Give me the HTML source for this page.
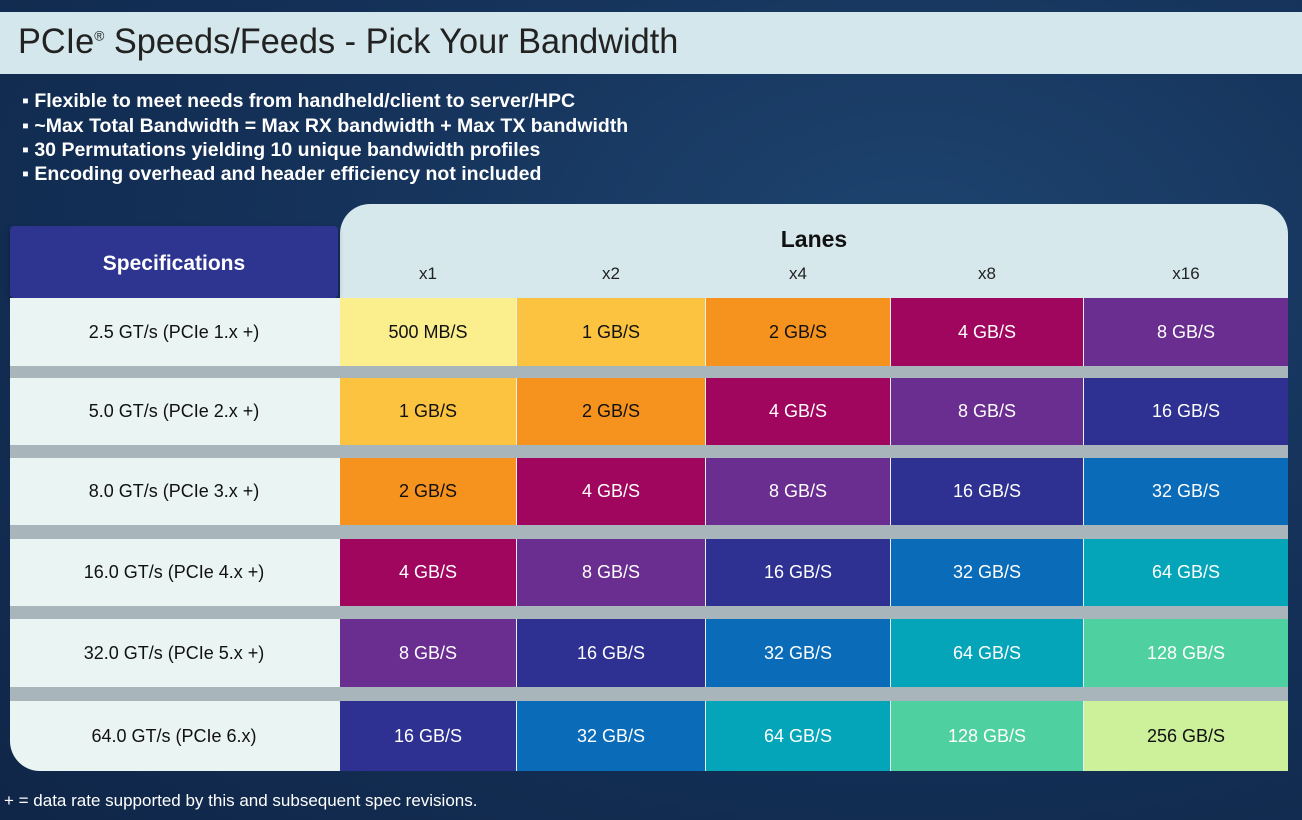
<!DOCTYPE html>
<html><head><style>
body{margin:0;width:1302px;height:820px;overflow:hidden;background:radial-gradient(ellipse at 70% 30%,#1d446f 0%,#15325a 45%,#0f2648 100%);font-family:"Liberation Sans",sans-serif;position:relative}
.a{position:absolute}
.title{left:0;top:12px;width:1302px;height:62px;background:#d4e7ec}
.title span{position:absolute;left:18px;top:10px;font-size:35px;color:#222;transform:scaleX(0.98);transform-origin:left;white-space:nowrap}
.bul{left:22px;color:#fff;font-weight:bold;font-size:19.5px;transform:scaleX(1.0);transform-origin:left;white-space:nowrap}
.panel{left:340px;top:204px;width:948px;height:100px;background:#d6e8ec;border-radius:30px 30px 0 0}
.spec{left:10px;top:226px;width:328px;height:72px;background:#2e3590;border-radius:4px;box-shadow:0 3px 6px rgba(0,0,0,.35);color:#fff;font-weight:bold;font-size:21px;text-align:center;line-height:76px}
.left{left:10px;top:298px;width:330px;height:473px;background:#e9f4f3;border-radius:0 0 0 30px}
.band{left:10px;width:1278px;background:#a8b5bb}
.lbl{left:10px;width:328px;text-align:center;font-size:18px;color:#111}
.c{font-size:18px;text-align:center;display:flex;align-items:center;justify-content:center}
.hx{top:264px;font-size:17px;color:#222;text-align:center}
</style></head><body>
<div class="a title"><span>PCIe<sup style="font-size:14px">®</sup> Speeds/Feeds - Pick Your Bandwidth</span></div>
<div class="a bul" style="top:90px">▪ Flexible to meet needs from handheld/client to server/HPC</div>
<div class="a bul" style="top:115px">▪ ~Max Total Bandwidth = Max RX bandwidth + Max TX bandwidth</div>
<div class="a bul" style="top:139px">▪ 30 Permutations yielding 10 unique bandwidth profiles</div>
<div class="a bul" style="top:163px">▪ Encoding overhead and header efficiency not included</div>
<div class="a panel"></div>
<div class="a" style="left:340px;width:948px;top:226px;text-align:center;font-weight:bold;font-size:23px;color:#111">Lanes</div>
<div class="a hx" style="left:340px;width:176px">x1</div>
<div class="a hx" style="left:517px;width:188px">x2</div>
<div class="a hx" style="left:706px;width:184px">x4</div>
<div class="a hx" style="left:891px;width:192px">x8</div>
<div class="a hx" style="left:1084px;width:204px">x16</div>
<div class="a spec">Specifications</div>
<div class="a left"></div>
<div class="a band" style="top:366px;height:12px"></div>
<div class="a band" style="top:445px;height:13px"></div>
<div class="a band" style="top:525px;height:14px"></div>
<div class="a band" style="top:606px;height:13px"></div>
<div class="a band" style="top:687px;height:14px"></div>
<div id="g"></div>
<div class="a" style="left:4px;top:791px;color:#fff;font-size:17px;white-space:nowrap;transform:scaleX(1.0);transform-origin:left">+ = data rate supported by this and subsequent spec revisions.</div>
<script>
var rows=[[298,366],[378,445],[458,525],[539,606],[619,687],[701,771]];
var cols=[[340,516],[517,705],[706,890],[891,1083],[1084,1288]];
var labels=["2.5 GT/s (PCIe 1.x +)","5.0 GT/s (PCIe 2.x +)","8.0 GT/s (PCIe 3.x +)","16.0 GT/s (PCIe 4.x +)","32.0 GT/s (PCIe 5.x +)","64.0 GT/s (PCIe 6.x)"];
var vals=["500 MB/S","1 GB/S","2 GB/S","4 GB/S","8 GB/S","16 GB/S","32 GB/S","64 GB/S","128 GB/S","256 GB/S"];
var col=["#fbee8c","#fbc33f","#f6921e","#a0065e","#6a2d90","#2e3192","#0a6bb8","#04a5b8","#4fd0a0","#cdf09a"];
var h="";
rows.forEach(function(r,i){
h+='<div class="a lbl" style="top:'+r[0]+'px;height:'+(r[1]-r[0])+'px;line-height:'+(r[1]-r[0])+'px">'+labels[i]+'</div>';
cols.forEach(function(c,j){var k=i+j;var dark=k<3||k==9;
h+='<div class="a c" style="left:'+c[0]+'px;top:'+r[0]+'px;width:'+(c[1]-c[0])+'px;height:'+(r[1]-r[0])+'px;background:'+col[k]+';color:'+(dark?'#111':'#fff')+'">'+vals[k]+'</div>';
if(j<4)h+='<div class="a" style="left:'+c[1]+'px;top:'+r[0]+'px;width:1px;height:'+(r[1]-r[0])+'px;background:#e8f0f2"></div>';});
});
document.getElementById('g').innerHTML=h;
</script>
</body></html>
